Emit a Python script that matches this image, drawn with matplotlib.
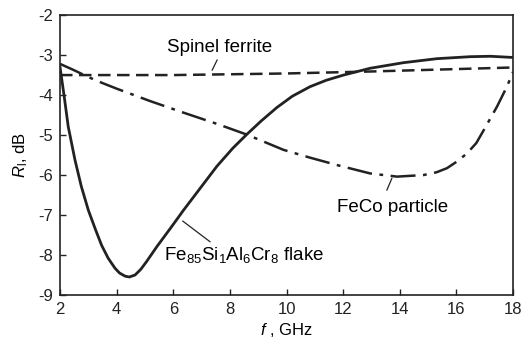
import matplotlib
matplotlib.use('Agg')
import matplotlib.pyplot as plt
import numpy as np

plt.rc('font', family='Liberation Sans')
plt.rc('mathtext', fontset='custom', rm='Liberation Sans', it='Liberation Sans:italic')
plt.rc('axes', unicode_minus=False)

# flake (solid)
f_flake = [2.0, 2.15, 2.29, 2.53, 2.75, 3.0, 3.25, 3.47, 3.7, 3.94, 4.1, 4.3, 4.45, 4.65, 4.85,
           5.05, 5.42, 5.9, 6.36, 6.95, 7.54, 8.1, 8.6, 9.1, 9.66, 10.2, 10.83, 11.4, 12.01,
           12.95, 14.13, 15.31, 16.49, 17.2, 18.0]
r_flake = [-3.3, -4.05, -4.79, -5.63, -6.28, -6.88, -7.36, -7.76, -8.08, -8.33, -8.45, -8.53, -8.55,
           -8.5, -8.36, -8.17, -7.79, -7.33, -6.88, -6.33, -5.78, -5.33, -4.98, -4.65, -4.31, -4.03,
           -3.79, -3.63, -3.5, -3.33, -3.19, -3.09, -3.04, -3.03, -3.06]

# spinel ferrite (dashed)
f_spinel = [2.0, 6.0, 10.0, 13.0, 18.0]
r_spinel = [-3.5, -3.5, -3.46, -3.41, -3.31]

# FeCo particle (dash-dot)
f_feco = [2.0, 2.5, 3.0, 3.5, 4.0, 5.18, 6.36, 7.54, 8.6, 9.89, 10.8, 11.78, 12.95, 13.9, 14.84,
          15.3, 15.66, 16.0, 16.37, 16.7, 16.96, 17.43, 17.78, 18.0]
r_feco = [-3.22, -3.38, -3.55, -3.7, -3.84, -4.15, -4.44, -4.72, -4.99, -5.37, -5.56, -5.75, -5.96,
          -6.04, -6.0, -5.93, -5.83, -5.67, -5.46, -5.2, -4.88, -4.29, -3.79, -3.42]

xticks = [2, 4, 6, 8, 10, 12, 14, 16, 18]
yticks = [-9, -8, -7, -6, -5, -4, -3, -2]

fig, ax = plt.subplots(figsize=(5.22, 3.43), dpi=100)
fig.subplots_adjust(left=0.115, right=0.983, top=0.956, bottom=0.14)

ax.plot(f_flake, r_flake, '-', color='#222222', lw=2.0, solid_joinstyle='round')
ax.plot(f_spinel, r_spinel, color='#222222', lw=1.8, dashes=(5, 2.6))
ax.plot(f_feco, r_feco, color='#222222', lw=1.8, dashes=(10, 3, 1.5, 3))

ax.set_xlim(2, 18)
ax.set_ylim(-9, -2)
ax.set_xticks(xticks)
ax.set_yticks(yticks)
ax.tick_params(direction='in', length=4, width=1, labelsize=12, colors='#222222', pad=5)
ax.tick_params(top=False, right=False)
for s in ax.spines.values():
    s.set_linewidth(1.2)
    s.set_color('#222222')

ax.set_xlabel('$f$ , GHz', fontsize=12, labelpad=3)
ax.set_ylabel('$R_{\\mathrm{l}}$, dB', fontsize=12, labelpad=6)

# labels
ax.text(7.65, -2.8, 'Spinel ferrite', fontsize=13.5, ha='center', va='center')
ax.text(13.75, -6.8, 'FeCo particle', fontsize=13.5, ha='center', va='center')
ax.text(8.5, -8.0, 'Fe$_{85}$Si$_1$Al$_6$Cr$_8$ flake', fontsize=13.5, ha='center', va='center')

# leader lines
leader = dict(arrowstyle='-', lw=0.9, color='#222222', shrinkA=0, shrinkB=0)
ax.annotate('', xy=(7.37, -3.38), xytext=(7.55, -3.12), arrowprops=leader)
ax.annotate('', xy=(13.72, -6.08), xytext=(13.54, -6.38), arrowprops=leader)
ax.annotate('', xy=(6.33, -7.15), xytext=(7.3, -7.67), arrowprops=leader)

plt.savefig('out.png', dpi=100)
